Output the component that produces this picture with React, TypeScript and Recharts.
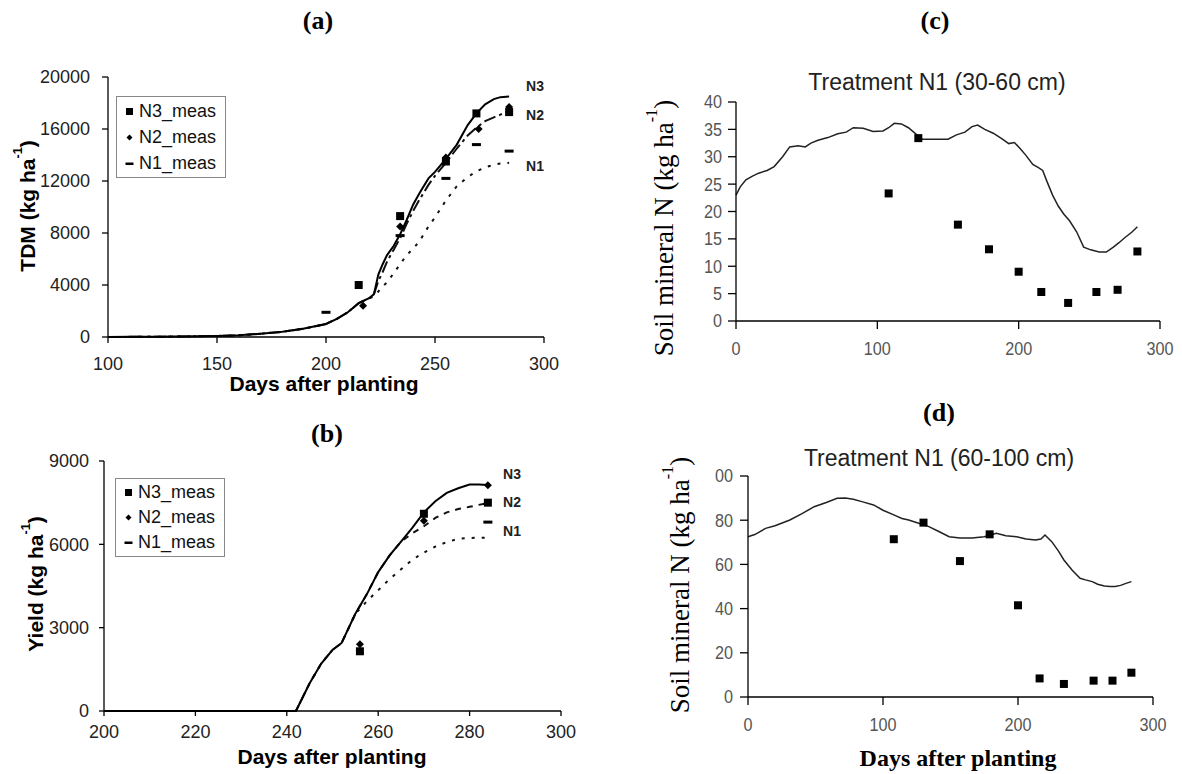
import React from "react";
import { ComposedChart, Line, Scatter, XAxis, YAxis, Legend } from "recharts";

const SANS = '"Liberation Sans", Arial, sans-serif';
const SERIF = '"Liberation Serif", "Times New Roman", serif';

// (a) total dry matter, simulated
const daysA = [100, 110, 120, 130, 140, 150, 160, 170, 180, 190, 200, 205, 210, 215, 220, 222, 224, 226, 228, 231, 234, 237, 240, 243, 247, 250, 255, 260, 265, 269, 273, 277, 280, 284];
const tdmN3Sim = [0, 10, 20, 30, 50, 80, 130, 250, 400, 650, 1000, 1400, 1900, 2600, 3000, 3300, 4800, 5600, 6300, 7000, 7900, 9000, 10200, 11100, 12200, 12700, 13700, 14800, 16300, 17200, 17900, 18300, 18450, 18500];
const tdmN2Sim = [0, 10, 20, 30, 50, 80, 130, 250, 400, 650, 1000, 1400, 1900, 2600, 3000, 3300, 4300, 5000, 5800, 6700, 7600, 8700, 9700, 10600, 11700, 12400, 13400, 14500, 15500, 16100, 16600, 16900, 17100, 17400];
const tdmN1Sim = [0, 10, 20, 30, 50, 80, 130, 250, 400, 650, 1000, 1400, 1900, 2600, 3000, 3100, 3500, 3900, 4200, 4900, 5600, 6300, 6800, 7400, 8500, 9200, 10500, 11600, 12300, 12750, 13050, 13250, 13350, 13400];
// (a) measured
const tdmN3Days = [215, 234, 255, 269, 284];
const tdmN3Meas = [4000, 9300, 13500, 17200, 17300];
const tdmN2Days = [217, 234, 255, 270, 284];
const tdmN2Meas = [2400, 8500, 13800, 16000, 17700];
const tdmN1Days = [200, 234, 255, 269, 284];
const tdmN1Meas = [1900, 7800, 12200, 14800, 14300];
const ticksAx = [100, 150, 200, 250, 300];
const ticksAy = [0, 4000, 8000, 12000, 16000, 20000];

// (b) yield, simulated
const daysB = [200, 210, 220, 230, 242, 245, 247.5, 250, 252, 255, 257.5, 260, 262.5, 265, 267.5, 270, 272.5, 275, 277.5, 280, 282, 284];
const yldN3Sim = [0, 0, 0, 0, 0, 1000, 1700, 2200, 2450, 3500, 4200, 5000, 5600, 6100, 6600, 7150, 7550, 7850, 8020, 8150, 8150, 8140];
const yldN2Sim = [0, 0, 0, 0, 0, 1000, 1700, 2200, 2450, 3500, 4200, 5000, 5600, 6100, 6400, 6650, 6950, 7150, 7270, 7350, 7420, 7480];
const yldN1Sim = [0, 0, 0, 0, 0, 1000, 1700, 2200, 2450, 3500, 3950, 4350, 4750, 5100, 5450, 5700, 5920, 6080, 6200, 6230, 6240, 6240];
// (b) measured
const yldN3Days = [256, 270, 284];
const yldN3Meas = [2150, 7100, 7500];
const yldN2Days = [256, 270, 284];
const yldN2Meas = [2400, 6850, 8130];
const yldN1Days = [284];
const yldN1Meas = [6800];
const ticksBx = [200, 220, 240, 260, 280, 300];
const ticksBy = [0, 3000, 6000, 9000];

// (c) soil mineral N 30-60 cm
const daysC = [0, 3, 7, 12, 16, 22, 27, 33, 38, 44, 49, 53, 58, 65, 72, 78, 83, 90, 97, 104, 108, 112, 117, 122, 128, 132, 140, 150, 156, 162, 167, 171, 176, 182, 188, 193, 197, 201, 205, 210, 214, 217, 220, 224, 228, 232, 236, 241, 246, 251, 257, 262, 267, 271, 275, 280, 284];
const soilCSim = [23.0, 24.5, 25.8, 26.5, 27.0, 27.5, 28.2, 30.0, 31.8, 32.0, 31.8, 32.5, 33.0, 33.5, 34.2, 34.5, 35.3, 35.2, 34.6, 34.7, 35.3, 36.1, 36.0, 35.3, 34.0, 33.2, 33.2, 33.2, 34.0, 34.5, 35.5, 35.8, 35.0, 34.3, 33.3, 32.4, 32.6, 31.5, 30.3, 28.6, 28.0, 27.5, 25.5, 23.0, 21.0, 19.5, 18.3, 16.3, 13.5, 13.0, 12.6, 12.6, 13.5, 14.3, 15.2, 16.2, 17.2];
const soilCDays = [108, 129, 157, 179, 200, 216, 235, 255, 270, 284];
const soilCMeas = [23.3, 33.4, 17.6, 13.1, 9.0, 5.3, 3.3, 5.3, 5.7, 12.7];
const ticksCx = [0, 100, 200, 300];
const ticksCy = [0, 5, 10, 15, 20, 25, 30, 35, 40];

// (d) soil mineral N 60-100 cm
const daysD = [0, 5, 13, 20, 31, 40, 49, 58, 66, 72, 78, 85, 93, 100, 108, 114, 119, 127, 134, 141, 149, 157, 166, 175, 184, 191, 199, 206, 213, 217, 220, 225, 230, 234, 240, 246, 250, 255, 259, 264, 268, 272, 276, 280, 284];
const soilDSim = [72.5, 73.5, 76.3, 77.5, 80.1, 83.0, 86.1, 88.0, 89.9, 90.0, 89.5, 88.3, 86.9, 84.5, 82.4, 80.8, 80.1, 78.5, 77.1, 75.0, 72.5, 72.0, 72.0, 72.5, 74.1, 73.0, 72.5, 71.5, 71.0, 71.5, 73.3, 70.3, 66.0, 62.0, 57.5, 53.7, 53.0, 52.2, 51.0, 50.2, 50.0, 50.0, 50.5, 51.4, 52.2];
const soilDDays = [108, 130, 157, 179, 200, 216, 234, 256, 270, 284];
const soilDMeas = [71.4, 78.9, 61.5, 73.6, 41.5, 8.4, 5.9, 7.4, 7.4, 11.0];
const ticksDx = [0, 100, 200, 300];
const ticksDy = [0, 20, 40, 60, 80, 100];

const pts = (days: number[], vals: number[]) => days.map((d, i) => ({ day: d, v: vals[i] }));

const square = (s: number) => (p: any) =>
  p.cx == null ? <g /> : <rect x={p.cx - s / 2} y={p.cy - s / 2} width={s} height={s} fill="#000" />;
const diamond = (s: number) => (p: any) =>
  p.cx == null ? <g /> : (
    <polygon
      points={`${p.cx},${p.cy - s / 2} ${p.cx + s / 2},${p.cy} ${p.cx},${p.cy + s / 2} ${p.cx - s / 2},${p.cy}`}
      fill="#000"
    />
  );
const dash = (w: number, h: number) => (p: any) =>
  p.cx == null ? <g /> : <rect x={p.cx - w / 2} y={p.cy - h / 2} width={w} height={h} fill="#000" />;

// tick text with optional horizontal squeeze, to match the scanned figure
function StretchTick(props: any) {
  const { x, y, payload, textAnchor, fs, sx, color, axis, fmt } = props;
  const dy = axis === "x" ? fs * 0.71 : fs * 0.355;
  const label = fmt ? fmt(payload.value) : String(payload.value);
  return (
    <text
      x={0}
      y={0}
      dy={dy}
      textAnchor={textAnchor}
      transform={`translate(${x},${y}) scale(${sx},1)`}
      fontSize={fs}
      fontFamily={SANS}
      fill={color}
    >
      {label}
    </text>
  );
}

function LegendBox({ lh }: { lh: number }) {
  const rows = [
    { name: "N3_meas", mark: <rect x={1} y={1} width={7} height={7} fill="#000" /> },
    { name: "N2_meas", mark: <polygon points="4.5,1.5 7.5,4.5 4.5,7.5 1.5,4.5" fill="#000" /> },
    { name: "N1_meas", mark: <rect x={0.5} y={3.5} width={8} height={2.5} fill="#000" /> },
  ];
  return (
    <div
      style={{
        border: "1px solid #888",
        background: "#fff",
        padding: "1px 9px 1px 8px",
        fontFamily: SANS,
        fontSize: 18,
        color: "#111",
        lineHeight: `${lh}px`,
      }}
    >
      {rows.map((r) => (
        <div key={r.name} style={{ display: "flex", alignItems: "center", whiteSpace: "nowrap" }}>
          <svg width={9} height={9} style={{ marginRight: 5 }}>
            {r.mark}
          </svg>
          {r.name}
        </div>
      ))}
    </div>
  );
}

function YTitle({ x, y, text, font, size, weight }: any) {
  return (
    <text
      transform={`translate(${x},${y}) rotate(-90)`}
      textAnchor="middle"
      dominantBaseline="central"
      fontFamily={font}
      fontSize={size}
      fontWeight={weight}
      fill="#000"
    >
      {text}
      <tspan dy={-size * 0.45} fontSize={size * 0.6}>-1</tspan>
      <tspan dy={size * 0.45}>)</tspan>
    </text>
  );
}

const axisLine = { stroke: "#000", strokeWidth: 1.3 };

export default function App() {
  return (
    <div style={{ position: "absolute", left: 0, top: 0, width: 1182, height: 774, background: "#fff" }}>
      {/* (a) */}
      <div style={{ position: "absolute", left: 0, top: 0 }}>
        <ComposedChart width={590} height={390} margin={{ top: 77, right: 46, bottom: 23, left: 48 }}>
          <XAxis
            dataKey="day"
            type="number"
            domain={[100, 300]}
            ticks={ticksAx}
            height={30}
            tickSize={6}
            tickMargin={14}
            axisLine={axisLine}
            tickLine={axisLine}
            tick={(p: any) => <StretchTick {...p} fs={18} sx={1} color="#222" axis="x" />}
          />
          <YAxis
            type="number"
            domain={[0, 20000]}
            ticks={ticksAy}
            width={60}
            tickSize={6}
            tickMargin={12}
            axisLine={axisLine}
            tickLine={axisLine}
            tick={(p: any) => <StretchTick {...p} fs={18} sx={1} color="#222" axis="y" />}
          />
          <Line data={pts(daysA, tdmN1Sim)} dataKey="v" stroke="#111" strokeWidth={2} strokeDasharray="3 7" dot={false} legendType="none" isAnimationActive={false} />
          <Line data={pts(daysA, tdmN2Sim)} dataKey="v" stroke="#111" strokeWidth={2} strokeDasharray="12 4 3 4" dot={false} legendType="none" isAnimationActive={false} />
          <Line data={pts(daysA, tdmN3Sim)} dataKey="v" stroke="#000" strokeWidth={2} dot={false} legendType="none" isAnimationActive={false} />
          <Scatter name="N3_meas" data={pts(tdmN3Days, tdmN3Meas)} dataKey="v" shape={square(8)} isAnimationActive={false} />
          <Scatter name="N2_meas" data={pts(tdmN2Days, tdmN2Meas)} dataKey="v" shape={diamond(8)} isAnimationActive={false} />
          <Scatter name="N1_meas" data={pts(tdmN1Days, tdmN1Meas)} dataKey="v" shape={dash(9, 3)} isAnimationActive={false} />
          <Legend
            layout="vertical"
            align="center"
            verticalAlign="middle"
            wrapperStyle={{ left: 116, top: 96, width: "auto" }}
            content={() => <LegendBox lh={26} />}
          />
        </ComposedChart>
      </div>

      {/* (b) */}
      <div style={{ position: "absolute", left: 0, top: 400 }}>
        <ComposedChart width={600} height={345} margin={{ top: 61, right: 39, bottom: 4, left: 44 }}>
          <XAxis
            dataKey="day"
            type="number"
            domain={[200, 300]}
            ticks={ticksBx}
            height={30}
            tickSize={5}
            tickMargin={9}
            axisLine={axisLine}
            tickLine={axisLine}
            tick={(p: any) => <StretchTick {...p} fs={18} sx={1} color="#222" axis="x" />}
          />
          <YAxis
            type="number"
            domain={[0, 9000]}
            ticks={ticksBy}
            width={60}
            tickSize={5}
            tickMargin={10}
            axisLine={axisLine}
            tickLine={axisLine}
            tick={(p: any) => <StretchTick {...p} fs={18} sx={1} color="#222" axis="y" />}
          />
          <Line data={pts(daysB, yldN1Sim)} dataKey="v" stroke="#111" strokeWidth={2} strokeDasharray="3 7" dot={false} legendType="none" isAnimationActive={false} />
          <Line data={pts(daysB, yldN2Sim)} dataKey="v" stroke="#111" strokeWidth={2} strokeDasharray="6 6" dot={false} legendType="none" isAnimationActive={false} />
          <Line data={pts(daysB, yldN3Sim)} dataKey="v" stroke="#000" strokeWidth={2} dot={false} legendType="none" isAnimationActive={false} />
          <Scatter name="N3_meas" data={pts(yldN3Days, yldN3Meas)} dataKey="v" shape={square(8)} isAnimationActive={false} />
          <Scatter name="N2_meas" data={pts(yldN2Days, yldN2Meas)} dataKey="v" shape={diamond(8)} isAnimationActive={false} />
          <Scatter name="N1_meas" data={pts(yldN1Days, yldN1Meas)} dataKey="v" shape={dash(9, 3)} isAnimationActive={false} />
          <Legend
            layout="vertical"
            align="center"
            verticalAlign="middle"
            wrapperStyle={{ left: 115, top: 78, width: "auto" }}
            content={() => <LegendBox lh={25} />}
          />
        </ComposedChart>
      </div>

      {/* (c) */}
      <div style={{ position: "absolute", left: 620, top: 60 }}>
        <ComposedChart width={560} height={310} margin={{ top: 42, right: 20, bottom: 19, left: 66 }}>
          <XAxis
            dataKey="day"
            type="number"
            domain={[0, 300]}
            ticks={ticksCx}
            height={30}
            tickSize={8}
            tickMargin={13}
            axisLine={axisLine}
            tickLine={axisLine}
            tick={(p: any) => <StretchTick {...p} fs={18} sx={0.9} color="#555" axis="x" />}
          />
          <YAxis
            type="number"
            domain={[0, 40]}
            ticks={ticksCy}
            width={50}
            tickSize={8}
            tickMargin={6}
            axisLine={axisLine}
            tickLine={axisLine}
            tick={(p: any) => <StretchTick {...p} fs={18} sx={0.9} color="#555" axis="y" />}
          />
          <Line data={pts(daysC, soilCSim)} dataKey="v" stroke="#222" strokeWidth={1.5} dot={false} legendType="none" isAnimationActive={false} />
          <Scatter data={pts(soilCDays, soilCMeas)} dataKey="v" shape={square(8)} isAnimationActive={false} />
        </ComposedChart>
      </div>

      {/* (d) */}
      <div style={{ position: "absolute", left: 620, top: 440 }}>
        <ComposedChart width={560} height={300} margin={{ top: 36, right: 27, bottom: 13, left: 78 }}>
          <XAxis
            dataKey="day"
            type="number"
            domain={[0, 300]}
            ticks={ticksDx}
            height={30}
            tickSize={8}
            tickMargin={13}
            axisLine={axisLine}
            tickLine={axisLine}
            tick={(p: any) => <StretchTick {...p} fs={18} sx={0.9} color="#555" axis="x" />}
          />
          <YAxis
            type="number"
            domain={[0, 100]}
            ticks={ticksDy}
            width={50}
            tickSize={8}
            tickMargin={7}
            axisLine={axisLine}
            tickLine={axisLine}
            tick={(p: any) => (
              <StretchTick {...p} fs={18} sx={0.9} color="#555" axis="y" fmt={(v: number) => (v === 100 ? "00" : String(v))} />
            )}
          />
          <Line data={pts(daysD, soilDSim)} dataKey="v" stroke="#222" strokeWidth={1.5} dot={false} legendType="none" isAnimationActive={false} />
          <Scatter data={pts(soilDDays, soilDMeas)} dataKey="v" shape={square(8)} isAnimationActive={false} />
        </ComposedChart>
      </div>

      {/* titles and annotations */}
      <svg width={1182} height={774} style={{ position: "absolute", left: 0, top: 0, pointerEvents: "none" }}>
        <g fontFamily={SERIF} fontSize={26} fontWeight="bold" textAnchor="middle" dominantBaseline="central" fill="#000">
          <text x={318} y={20}>(a)</text>
          <text x={327} y={433}>(b)</text>
          <text x={935} y={20}>(c)</text>
          <text x={939} y={412}>(d)</text>
        </g>
        <g fontFamily={SANS} fontSize={21} fontWeight="bold" textAnchor="middle" dominantBaseline="central" fill="#000">
          <text x={324} y={383}>Days after planting</text>
          <text x={332} y={756}>Days after planting</text>
        </g>
        <YTitle x={27} y={206} text="TDM (kg ha" font={SANS} size={21} weight="bold" />
        <YTitle x={35} y={584} text="Yield (kg ha" font={SANS} size={21} weight="bold" />
        <YTitle x={664} y={228} text="Soil mineral N (kg ha" font={SERIF} size={27} weight="normal" />
        <YTitle x={680} y={585} text="Soil mineral N (kg ha" font={SERIF} size={27} weight="normal" />
        <g fontFamily={SANS} fontSize={23} textAnchor="middle" dominantBaseline="central" fill="#222">
          <text x={937} y={82}>Treatment N1 (30-60 cm)</text>
          <text x={939} y={458}>Treatment N1 (60-100 cm)</text>
        </g>
        <text x={958} y={758} fontFamily={SERIF} fontSize={24} fontWeight="bold" textAnchor="middle" dominantBaseline="central">
          Days after planting
        </text>
        <g fontFamily={SANS} fontSize={14} fontWeight="bold" textAnchor="middle" dominantBaseline="central" fill="#222">
          <text x={535} y={86}>N3</text>
          <text x={535} y={115}>N2</text>
          <text x={535} y={166}>N1</text>
          <text x={512} y={474}>N3</text>
          <text x={512} y={502}>N2</text>
          <text x={512} y={531}>N1</text>
        </g>
      </svg>
    </div>
  );
}
